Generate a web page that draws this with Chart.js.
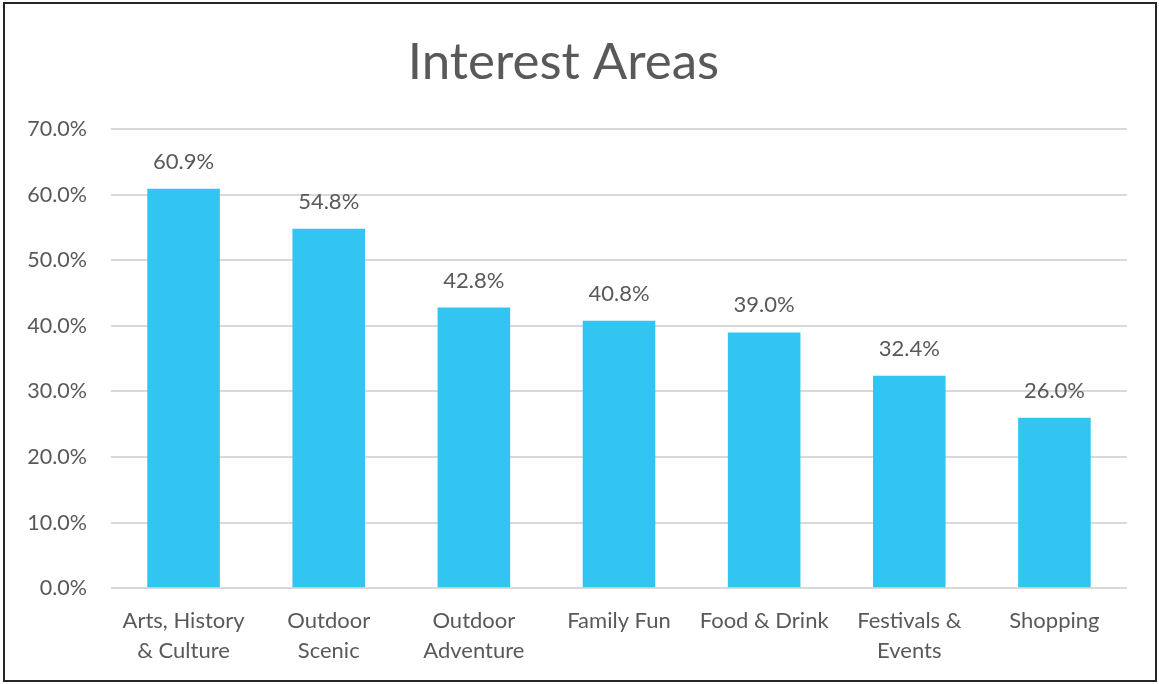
<!DOCTYPE html>
<html>
<head>
<meta charset="utf-8">
<script src="https://cdn.jsdelivr.net/npm/chart.js@4/dist/chart.umd.min.js"></script>
<style>
html,body{margin:0;padding:0;background:#fff;}
#wrap{position:relative;width:1159px;height:684px;}
</style>
</head>
<body>
<div id="wrap"><canvas id="c" width="1159" height="684"></canvas></div>
<script>
const categories = [["Arts, History","& Culture"],["Outdoor","Scenic"],["Outdoor","Adventure"],"Family Fun","Food & Drink",["Festivals &","Events"],"Shopping"];
const values = [60.9, 54.8, 42.8, 40.8, 39.0, 32.4, 26.0];
const yTicks = [0, 10, 20, 30, 40, 50, 60, 70];
const titleText = "Interest Areas";

const FONT = "Lato, 'Open Sans', sans-serif";
const TXT = '#595959';

const framePlugin = {
  id: 'frame',
  afterDraw(chart) {
    const ctx = chart.ctx;
    ctx.save();
    ctx.strokeStyle = '#262626';
    ctx.lineWidth = 2;
    ctx.strokeRect(4, 3, 1152, 678);
    ctx.restore();
  }
};

const labelPlugin = {
  id: 'valLabels',
  afterDatasetsDraw(chart) {
    const ctx = chart.ctx;
    const meta = chart.getDatasetMeta(0);
    ctx.save();
    ctx.fillStyle = TXT;
    ctx.font = "22px " + FONT;
    ctx.textAlign = 'center';
    ctx.textBaseline = 'alphabetic';
    meta.data.forEach((el, i) => {
      ctx.fillText(values[i].toFixed(1) + '%', el.x, el.y - 20);
    });
    ctx.restore();
  }
};

new Chart(document.getElementById('c'), {
  type: 'bar',
  data: {
    labels: categories,
    datasets: [{
      data: values,
      backgroundColor: '#32C5F2',
      borderWidth: 0,
      categoryPercentage: 1.0,
      barPercentage: 0.5
    }]
  },
  options: {
    responsive: false,
    animation: false,
    devicePixelRatio: 1,
    layout: { padding: { left: 0, right: 32, top: 32, bottom: 0 } },
    plugins: {
      legend: { display: false },
      tooltip: { enabled: false },
      title: {
        display: true,
        text: titleText,
        color: TXT,
        font: { family: FONT, size: 51, weight: 'normal' },
        padding: { top: 0, bottom: 36 }
      }
    },
    scales: {
      x: {
        grid: { display: false, drawTicks: false },
        border: { display: false },
        ticks: { color: TXT, font: { family: FONT, size: 22, lineHeight: 1.36 }, padding: 18, maxRotation: 0, autoSkip: false }
      },
      y: {
        min: 0, max: 70,
        afterBuildTicks(scale) { scale.ticks = yTicks.map(v => ({ value: v })); },
        afterFit(scale) { scale.width = 111; },
        grid: { color: '#D9D9D9', lineWidth: 2, drawTicks: false },
        border: { display: false },
        ticks: {
          color: TXT, font: { family: FONT, size: 21.5 }, padding: 24,
          callback: v => v.toFixed(1) + '%'
        }
      }
    }
  },
  plugins: [framePlugin, labelPlugin]
});
</script>
</body>
</html>
